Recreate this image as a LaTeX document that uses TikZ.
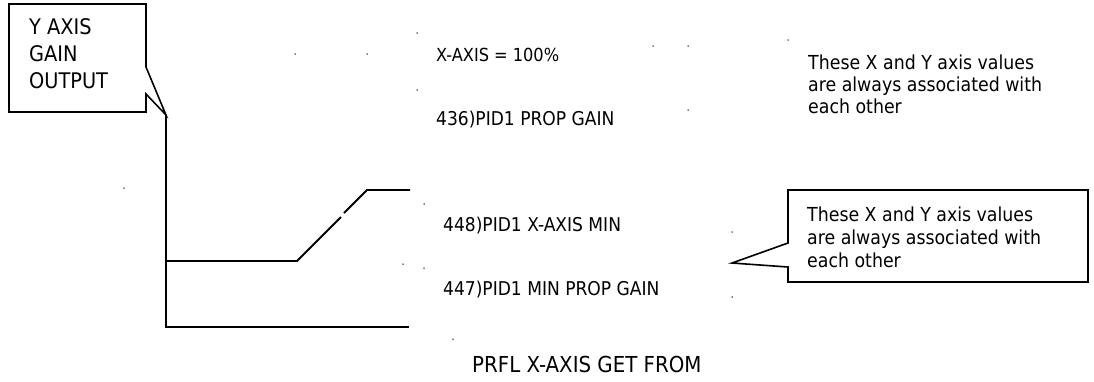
\documentclass[tikz,border=0pt]{standalone}
\usepackage{fontspec}
\setmainfont{DejaVu Sans Condensed}
\begin{document}
\begin{tikzpicture}[x=1pt,y=-1pt,
  line/.style={line width=1.8pt,black},
  callout/.style={line width=1.6pt,black,fill=white},
  lbl/.style={anchor=base west,inner sep=0pt,font=\fontsize{19}{22}\selectfont},
  big/.style={anchor=base west,inner sep=0pt,font=\fontsize{21.5}{26}\selectfont},
  note/.style={anchor=base west,inner sep=0pt,font=\fontsize{19.3}{22}\selectfont},
  speck/.style={fill=black,inner sep=0pt,minimum size=1.5pt,circle}]
\useasboundingbox (0,0) rectangle (1094,381);
% left callout
\coordinate (ytip) at (166,115);
\draw[callout] (9,4) -- (146,4) -- (146,67) -- (ytip) -- (146,94) -- (146,112) -- (9,112) -- cycle;
\node[big] (y1) at (29,34) {Y AXIS};
\node[big] (y2) at (29,61) {GAIN};
\node[big] (y3) at (29,88) {OUTPUT};
% graph
\coordinate (corner) at (166,327);
\coordinate (bend) at (166,261);
\coordinate (xend) at (409,327);
\coordinate (lowknee) at (297,261);
\coordinate (gapA) at (341,217);
\coordinate (gapB) at (344,213);
\coordinate (hiknee) at (367,190);
\coordinate (hiend) at (410,190);
\draw[line] (ytip) -- (corner) -- (xend);
\draw[line] (bend) -- (lowknee) -- (gapA);
\draw[line] (gapB) -- (hiknee) -- (hiend);
% labels
\node[lbl,font=\fontsize{18}{22}\selectfont] (xaxis) at (436,61) {X-AXIS = 100\%};
\node[lbl] (p436) at (436,125) {436)PID1 PROP GAIN};
\node[lbl] (p448) at (443,231) {448)PID1 X-AXIS MIN};
\node[lbl] (p447) at (443,295) {447)PID1 MIN PROP GAIN};
\node[big,font=\fontsize{22}{26}\selectfont] (prfl) at (472,372) {PRFL X-AXIS GET FROM};
% upper note
\node[note] (n1) at (808,69) {These X and Y axis values};
\node[note] (n2) at (808,91) {are always associated with};
\node[note] (n3) at (808,113) {each other};
% lower callout
\coordinate (ctip) at (732,263);
\draw[callout] (788,190) -- (1088,190) -- (1088,282) -- (788,282) -- (788,267) -- (ctip) -- (788,243) -- cycle;
\node[note] (m1) at (807,221) {These X and Y axis values};
\node[note] (m2) at (807,244) {are always associated with};
\node[note] (m3) at (807,267) {each other};
% stray specks
\foreach \p [count=\i] in {(124,188),(295,54),(367,54),(417,33),(417,90),(653,46),(688,46),(688,110),(788,40),(424,204),(403,264),(424,268),(732,232),(732,297),(453,339)}
  \node[speck] (s\i) at \p {};
\end{tikzpicture}
\end{document}
